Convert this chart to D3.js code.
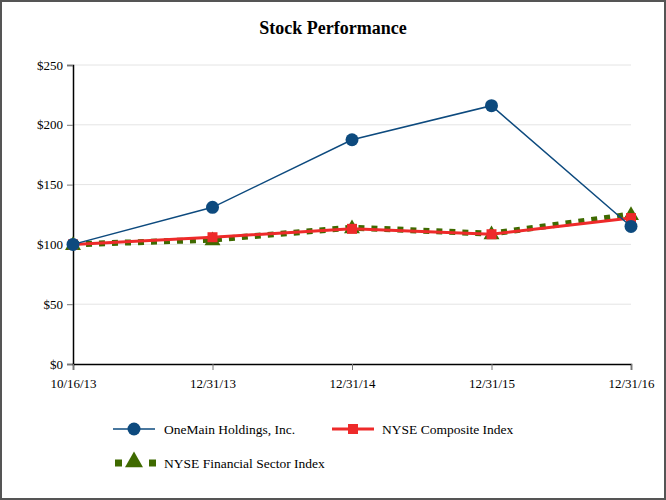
<!DOCTYPE html>
<html>
<head>
<meta charset="utf-8">
<script src="https://cdn.jsdelivr.net/npm/d3@7/dist/d3.min.js"></script>
<style>
  body { margin: 0; background: #fff; }
  svg { display: block; font-family: "Liberation Serif", "Times New Roman", serif; }
</style>
</head>
<body>
<svg id="chart" width="666" height="500"></svg>
<script>
const dates = ["10/16/13", "12/31/13", "12/31/14", "12/31/15", "12/31/16"]
const oneMain = [100, 131, 187.5, 216, 115]
const nyseComposite = [100, 106, 113, 108.5, 122]
const nyseFinancial = [100, 104, 114, 109, 125]
const yTicks = [0, 50, 100, 150, 200, 250]

const svg = d3.select("#chart")
const width = 666, height = 500

// outer frame
svg.append("rect")
  .attr("x", 1).attr("y", 1)
  .attr("width", width - 2).attr("height", height - 2)
  .attr("fill", "#fff").attr("stroke", "#555").attr("stroke-width", 2)

svg.append("text")
  .attr("x", 333).attr("y", 34)
  .attr("text-anchor", "middle")
  .attr("font-size", 18).attr("font-weight", "bold")
  .text("Stock Performance")

const x = d3.scalePoint().domain(dates).range([73, 631])
const y = d3.scaleLinear().domain([0, 250]).range([364, 65])

// grid
svg.append("g")
  .selectAll("line")
  .data(yTicks.slice(1))
  .join("line")
  .attr("x1", 73).attr("x2", 631)
  .attr("y1", d => y(d)).attr("y2", d => y(d))
  .attr("stroke", "#e4e4e4").attr("stroke-width", 1)

// y axis
const yAxis = svg.append("g")
  .attr("transform", "translate(73,0)")
  .call(d3.axisLeft(y).tickValues(yTicks).tickFormat(d => "$" + d).tickSize(6).tickPadding(4))
yAxis.attr("font-family", null).attr("font-size", 13)
yAxis.select(".domain").attr("stroke", "#000").attr("stroke-width", 1.5)
yAxis.selectAll(".tick line").attr("stroke", "#777")
yAxis.selectAll("text").attr("fill", "#000")

// x axis
const xAxis = svg.append("g")
  .attr("transform", "translate(0,364)")
  .call(d3.axisBottom(x).tickSize(6).tickPadding(9))
xAxis.attr("font-family", null).attr("font-size", 13)
xAxis.select(".domain").attr("stroke", "#000").attr("stroke-width", 1.5)
xAxis.selectAll(".tick line").attr("stroke", "#777")
xAxis.selectAll("text").attr("fill", "#000")

const line = d3.line().x((d, i) => x(dates[i])).y(d => y(d))

const blue = "#0d4a7e", red = "#ee2a2a", green = "#3f6a00"

// financial sector (dotted green, triangles)
svg.append("path")
  .attr("d", line(nyseFinancial))
  .attr("fill", "none").attr("stroke", green)
  .attr("stroke-width", 6).attr("stroke-dasharray", "6,7")
const tri = d3.symbol().type(d3.symbolTriangle).size(110)
svg.append("g").selectAll("path")
  .data(nyseFinancial)
  .join("path")
  .attr("d", tri)
  .attr("transform", (d, i) => `translate(${x(dates[i])},${y(d) + 1})`)
  .attr("fill", green)

// composite (red, squares)
svg.append("path")
  .attr("d", line(nyseComposite))
  .attr("fill", "none").attr("stroke", red).attr("stroke-width", 3)
svg.append("g").selectAll("rect")
  .data(nyseComposite)
  .join("rect")
  .attr("x", (d, i) => x(dates[i]) - 5).attr("y", d => y(d) - 5)
  .attr("width", 10).attr("height", 10)
  .attr("fill", red)

// onemain (blue, circles)
svg.append("path")
  .attr("d", line(oneMain))
  .attr("fill", "none").attr("stroke", blue).attr("stroke-width", 1.5)
svg.append("g").selectAll("circle")
  .data(oneMain)
  .join("circle")
  .attr("cx", (d, i) => x(dates[i])).attr("cy", d => y(d))
  .attr("r", 6.5)
  .attr("fill", blue)

// legend
const legend = svg.append("g").attr("font-size", 13.5)

const l1 = legend.append("g").attr("transform", "translate(113,429)")
l1.append("line").attr("x1", 0).attr("x2", 42).attr("stroke", blue).attr("stroke-width", 1.5)
l1.append("circle").attr("cx", 21).attr("r", 6.5).attr("fill", blue)
l1.append("text").attr("x", 51).attr("y", 4.5).text("OneMain Holdings, Inc.")

const l2 = legend.append("g").attr("transform", "translate(332,429)")
l2.append("line").attr("x1", 0).attr("x2", 42).attr("stroke", red).attr("stroke-width", 3)
l2.append("rect").attr("x", 16).attr("y", -5).attr("width", 10).attr("height", 10).attr("fill", red)
l2.append("text").attr("x", 50).attr("y", 4.5).text("NYSE Composite Index")

const l3 = legend.append("g").attr("transform", "translate(113,463)")
l3.append("rect").attr("x", 2).attr("y", -3.5).attr("width", 7).attr("height", 7).attr("fill", green)
l3.append("rect").attr("x", 36).attr("y", -3.5).attr("width", 7).attr("height", 7).attr("fill", green)
l3.append("path").attr("d", d3.symbol().type(d3.symbolTriangle).size(140))
  .attr("transform", "translate(21,-1)").attr("fill", green)
l3.append("text").attr("x", 51).attr("y", 4.5).text("NYSE Financial Sector Index")
</script>
</body>
</html>
